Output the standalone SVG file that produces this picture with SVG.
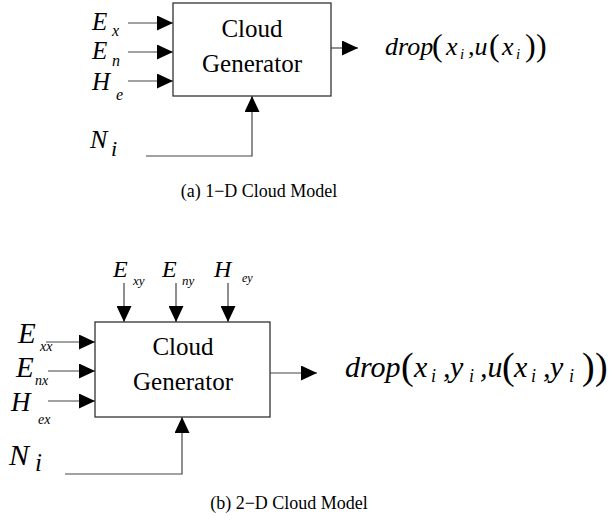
<svg xmlns="http://www.w3.org/2000/svg" width="615" height="520" viewBox="0 0 615 520" font-family="Liberation Serif, Times New Roman, serif">
<defs>
<marker id="ah" markerUnits="userSpaceOnUse" markerWidth="17" markerHeight="15" refX="16" refY="7.5" orient="auto">
<path d="M0,0 L16,7.5 L0,15 Z" fill="#000"/>
</marker>
<style>
.box{fill:#fff;stroke:#333;stroke-width:1.3}
.ln{fill:none;stroke:#444;stroke-width:1.2}
</style>
</defs>
<rect width="615" height="520" fill="#fff"/>

<g id="connectors">
<line class="ln" x1="128" y1="23" x2="173" y2="23" marker-end="url(#ah)"/>
<line class="ln" x1="128" y1="52" x2="173" y2="52" marker-end="url(#ah)"/>
<line class="ln" x1="128" y1="81" x2="173" y2="81" marker-end="url(#ah)"/>
<line class="ln" x1="331" y1="48" x2="358" y2="48" marker-end="url(#ah)"/>
<polyline class="ln" points="146,156 252,156 252,96" marker-end="url(#ah)"/>

<line class="ln" x1="124" y1="283" x2="124" y2="322" marker-end="url(#ah)"/>
<line class="ln" x1="176" y1="283" x2="176" y2="322" marker-end="url(#ah)"/>
<line class="ln" x1="228" y1="283" x2="228" y2="322" marker-end="url(#ah)"/>
<line class="ln" x1="46" y1="342" x2="95" y2="342" marker-end="url(#ah)"/>
<line class="ln" x1="48" y1="371" x2="95" y2="371" marker-end="url(#ah)"/>
<line class="ln" x1="48" y1="401" x2="95" y2="401" marker-end="url(#ah)"/>
<line class="ln" x1="270" y1="373" x2="317" y2="373" marker-end="url(#ah)"/>
<polyline class="ln" points="65,474 182,474 182,417" marker-end="url(#ah)"/>
</g>

<g id="gen1" font-family="Liberation Serif, serif" font-size="25" text-anchor="middle">
<rect class="box" x="173" y="3" width="158" height="93"/>
<text x="252" y="37">Cloud</text>
<text x="252" y="72">Generator</text>
</g>

<g id="in1" font-family="Liberation Serif, serif" font-style="italic">
<text x="92" y="30" font-size="25">E</text><text x="112" y="36" font-size="16">x</text>
<text x="92" y="59" font-size="25">E</text><text x="112" y="66" font-size="16">n</text>
<text x="92" y="90" font-size="25">H</text><text x="116" y="100" font-size="16">e</text>
<text x="90" y="148" font-size="26">N</text><text x="111" y="156" font-size="22">i</text>
</g>

<g id="out1" font-family="Liberation Serif, serif" font-style="italic">
<text font-size="26" y="55"><tspan x="385">drop</tspan><tspan font-style="normal" font-size="32" x="432" y="56">(</tspan><tspan x="446" y="55">x</tspan><tspan font-size="15" x="460" y="59">i</tspan><tspan x="468" y="55">,u</tspan><tspan font-style="normal" font-size="32" x="489" y="56">(</tspan><tspan x="502" y="55">x</tspan><tspan font-size="15" x="516" y="59">i</tspan><tspan font-style="normal" font-size="32" x="525" y="56">)</tspan><tspan font-style="normal" font-size="32" x="536" y="56">)</tspan></text>
</g>

<text x="259" y="197" font-family="Liberation Serif, serif" font-size="18" text-anchor="middle">(a) 1−D Cloud Model</text>

<g id="gen2" font-family="Liberation Serif, serif" font-size="25" text-anchor="middle">
<rect class="box" x="95" y="322" width="175" height="95"/>
<text x="183" y="355">Cloud</text>
<text x="183" y="390">Generator</text>
</g>

<g id="in2" font-family="Liberation Serif, serif" font-style="italic">
<text x="113" y="277" font-size="24">E</text><text x="133" y="285" font-size="13">xy</text>
<text x="162" y="277" font-size="24">E</text><text x="182" y="285" font-size="13">ny</text>
<text x="214" y="277" font-size="24">H</text><text x="242" y="282" font-size="12">ey</text>
<text x="18" y="343" font-size="29">E</text><text x="40" y="351" font-size="14">xx</text>
<text x="16" y="377" font-size="29">E</text><text x="35" y="385" font-size="14">nx</text>
<text x="11" y="411" font-size="27">H</text><text x="38" y="424" font-size="14">ex</text>
<text x="9" y="465" font-size="30">N</text><text x="35" y="471" font-size="25">i</text>
</g>

<g id="out2" font-family="Liberation Serif, serif" font-style="italic">
<text font-size="30" y="377"><tspan x="345">drop</tspan><tspan font-style="normal" font-size="38" x="401" y="379">(</tspan><tspan x="414" y="377">x</tspan><tspan font-size="18" x="431" y="382">i</tspan><tspan x="443" y="377">,</tspan><tspan x="450">y</tspan><tspan font-size="18" x="469" y="382">i</tspan><tspan x="480" y="377">,u</tspan><tspan font-style="normal" font-size="38" x="502" y="379">(</tspan><tspan x="514" y="377">x</tspan><tspan font-size="18" x="531" y="382">i</tspan><tspan x="543" y="377">,</tspan><tspan x="550">y</tspan><tspan font-size="18" x="569" y="382">i</tspan><tspan font-style="normal" font-size="38" x="582" y="379">)</tspan><tspan font-style="normal" font-size="38" x="595" y="379">)</tspan></text>
</g>

<text x="289" y="509" font-family="Liberation Serif, serif" font-size="18" text-anchor="middle">(b) 2−D Cloud Model</text>
</svg>
